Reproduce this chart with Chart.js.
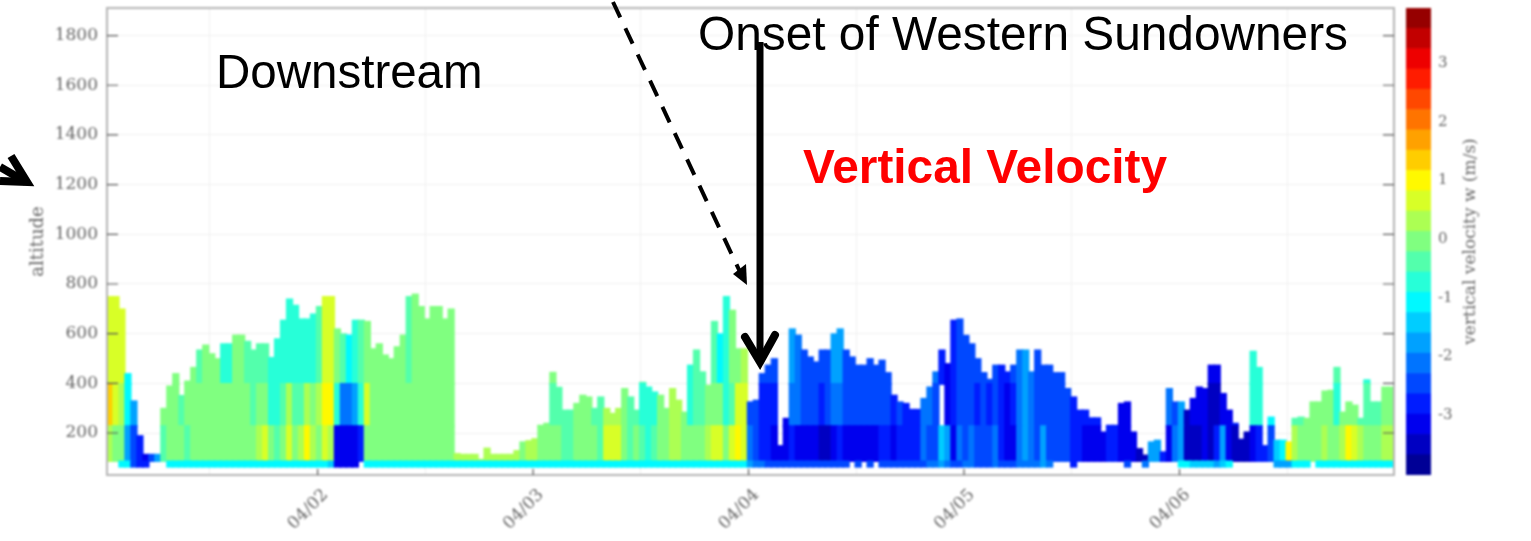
<!DOCTYPE html>
<html>
<head>
<meta charset="utf-8">
<title>Vertical velocity</title>
<script src="https://cdn.jsdelivr.net/npm/chart.js@4"></script>
<style>
    html, body { margin: 0; padding: 0; background: #fff; overflow: hidden; }
    #page { position: relative; width: 1531px; height: 541px; }
    canvas { position: absolute; left: 0; top: 0; filter: blur(1px); }
    svg { position: absolute; left: 0; top: 0; }
    .note { position: absolute; font-family: "Liberation Sans", Arial, sans-serif; font-size: 47.8px; line-height: 1; white-space: nowrap; color: #000; }
    .red { color: #f00; font-weight: bold; }
</style>
</head>
<body>
<div id="page">
    <canvas id="curtainChart" width="1531" height="541"></canvas>
    <canvas id="colorbarChart" width="1531" height="541"></canvas>
    <svg width="1531" height="541">
        <!-- dashed arrow -->
        <line x1="613" y1="2" x2="741" y2="274" stroke="#000" stroke-width="4" stroke-dasharray="17 12"/>
        <polygon points="747,285 733,274 746,264" fill="#000"/>
        <!-- onset arrow -->
        <line x1="760" y1="42" x2="760" y2="360" stroke="#000" stroke-width="7"/>
        <polyline points="745,337 760,362 775,335" fill="none" stroke="#000" stroke-width="8" stroke-linecap="round"/>
        <!-- arrow on the left edge -->
        <polyline points="11,156 27,182 0,181" fill="none" stroke="#000" stroke-width="8"/>
        <line x1="0" y1="167" x2="26" y2="182" stroke="#000" stroke-width="8"/>
    </svg>
    <div class="note" style="left:216px; top:48px; font-size:47.5px;">Downstream</div>
    <div class="note" style="left:698px; top:10px;">Onset of Western Sundowners</div>
    <div class="note red" style="left:803px; top:143px;">Vertical Velocity</div>
</div>
<script>
// Chart values
const dayTicks = [2, 3, 4, 5, 6];
const altitudeTicks = [200, 400, 600, 800, 1000, 1200, 1400, 1600, 1800];
const velocityTicks = [-3, -2, -1, 0, 1, 2, 3];
const startDay = 1.0225;
const columnsPerDay = 36;

// Top of the measured profile in each column (m)
const topAltitude = [
    750, 750, 700, 440, 330, 190, 115, 115, 115, 300,
    390, 440, 352, 410, 465, 535, 555, 520, 500, 560,
    560, 595, 595, 570, 535, 560, 560, 505, 580, 655,
    740, 715, 660, 660, 680, 710, 750, 750, 620, 600,
    595, 655, 655, 650, 540, 560, 515, 500, 548, 595,
    750, 760, 710, 660, 710, 710, 660, 700, 118, 115,
    115, 115, 95, 140, 115, 115, 115, 115, 130, 165,
    170, 178, 232, 240, 445, 385, 293, 293, 320, 353,
    346, 300, 346, 300, 280, 300, 380, 346, 293, 405,
    386, 366, 353, 300, 380, 333, 285, 474, 535, 447,
    393, 650, 600, 750, 695, 540, 540, 326, 333, 440,
    474, 500, 150, 260, 620, 595, 535, 507, 487, 535,
    535, 600, 620, 535, 507, 474, 474, 500, 474, 494,
    444, 353, 326, 320, 296, 296, 340, 386, 447, 535,
    480, 655, 660, 594, 560, 500, 444, 417, 474, 474,
    447, 474, 535, 535, 447, 535, 474, 474, 444, 444,
    380, 346, 293, 293, 262, 262, 205, 232, 232, 320,
    326, 205, 138, 112, 165, 172, 125, 380, 326, 326,
    293, 340, 386, 380, 474, 474, 360, 293, 240, 176,
    205, 530, 465, 150, 265, 172, 172, 165, 260, 265,
    260, 326, 326, 370, 373, 465, 285, 326, 313, 260,
    415, 326, 326, 386, 386
];

// Vertical velocity (m/s) in the thin band nearest the ground, null where empty
const groundVelocity = [
    null, null, -1, -1.2, -2.5, -2.8, -2.8, null, null, null,
    -1.2, -1.2, -1.2, -1.2, -1.2, -1.2, -1.2, -1.2, -1.2, -1.2,
    -1.2, -1.2, -1.2, -1.2, -1.2, -1.2, -1.2, -1.2, -1.2, -1.2,
    -1.2, -1.2, -1.2, -1.2, -1.2, -1.2, -1.2, -1.3, -3, -3,
    -3, -3, null, -1.2, -1.2, -1.2, -1.2, -1.2, -1.2, -1.2,
    -1.2, -1.2, -1.2, -1.2, -1.2, -1.2, -1.2, -1.2, -1.2, -1.2,
    -1.2, -1.2, -1.2, -1.2, -1.2, -1.2, -1.2, -1.2, -1.2, -1.2,
    -1.2, -1.2, -1.2, -1.2, -1.2, -1.2, -1.2, -1.2, -1.2, -1.2,
    -1.2, -1.2, -1.2, -1.2, -1.2, -1.2, -1.2, -1.2, -1.2, -1.2,
    -1.2, -1.2, -1.2, -1.2, -1.2, -1.2, -1.2, -1.2, -1.2, -1.2,
    -1.2, -1.2, -1.2, -1.2, -1.2, -1.2, -1.2, -1.8, -2, -2.2,
    -2.4, -2.5, -2.6, -2.6, -2.6, -2.6, -2.6, -2.6, -2.6, -2.6,
    -2.6, -2.6, -2.6, -2.6, null, -2.6, null, -2.6, null, -2.5,
    -2.5, -2.4, -2.4, -2.4, -2.4, -2.4, -2.4, -2.2, -2.2, -1.6,
    -2.2, -2.4, -2.4, -2.2, -2.2, -2.4, -2.4, -2.4, -2.2, -2.4,
    -2.6, -2.6, -2.2, -2, -2, -2.2, -1.8, -2.2, null, null,
    null, -2.8, null, null, null, null, null, null, null, null,
    -2.6, null, null, -2.2, null, null, null, null, null, -1.2,
    -1.2, -1.4, -1.4, -1.4, -1.4, -1.6, -1.4, -1.2, null, null,
    null, null, null, null, null, -1.6, -1.6, -1.6, -1.2, -1.2,
    -1.2, null, -1.2, -1.2, -1.2, -1.2, -1.2, -1.2, -1.2, -1.2,
    -1.2, -1.2, -1.2, -1.2, -1.2
];

// Vertical velocity (m/s) below 230 m
const lowVelocity = [
    0.3, -0.1, -0.2, -1.6, -2.4, -2.8, -3.1, -2.5, -1.8, -0.3,
    -0.1, 0, -0.2, -0.3, -0.1, 0, 0, 0.1, 0, -0.1,
    -0.1, 0, 0, 0, -0.2, 0.3, 0.7, -0.2, -0.3, 0.1,
    0.8, 0, 0.2, 1, 0.2, 0.1, 0.5, 0.3, -3, -3.3,
    -3.3, -3.2, -2.8, 0, -0.1, -0.1, 0, 0, 0, -0.1,
    -0.1, 0, 0, 0, 0, 0.1, 0, 0, 0.2, 0.2,
    0.2, 0.2, 0.2, 0.2, 0.2, 0.2, 0.2, 0.2, 0.2, 0.1,
    0.2, 0.2, 0, 0, -0.1, -0.2, -0.4, -0.3, 0, 0.1,
    0, -0.2, -0.3, 0.5, 0.6, 0.5, 0.1, -0.3, -0.2, -0.5,
    -0.6, -0.4, -0.1, 0.1, 0.4, 0.3, 0, -0.2, 0, 0.1,
    0.3, 0.8, 0.5, -0.1, 0.7, 0.9, 0.7, -2.2, -2.6, -2.8,
    -2.8, -3, -3.1, -3.3, -2.9, -3, -3.1, -3.3, -3.3, -3.4,
    -3.4, -3, -2.9, -3.1, -3.2, -3.1, -3, -3, -3, -2.9,
    -2.9, -3, -2.9, -2.8, -2.8, -2.7, -2.2, -2.3, -2.6, -1.3,
    -1.8, -3, -2.2, -2.4, -2.1, -2.6, -2.3, -2.5, -2.1, -2.9,
    -3.3, -3.2, -2.1, -1.9, -2, -2.4, -1.8, -2.4, -2.6, -2.5,
    -2.6, -2.7, -2.9, -3, -3, -3.1, -3.2, -2.8, -2.8, -3.1,
    -3.2, -3.3, -3.4, -3.4, -1.9, -1.8, -2.8, -3, -2.2, -1.8,
    -3.5, -3.5, -3.4, -3.3, -3.5, -2.8, -1.8, -3.3, -3.4, -3.4,
    -3.4, -3, -2.9, -2.7, -2.4, -1.4, -1, 0.9, 0.2, 0,
    0, -0.1, 0, 0.2, 0.1, 0, 0.3, 0.9, 0.6, 0.2,
    0, 0.1, 0.1, 0.2, 0.2
];

// Vertical velocity (m/s) between 230 m and 400 m, null where there is no return
const midVelocity = [
    1.3, 0.8, 0.3, -1.1, -1.8, null, null, null, null, -0.2,
    -0.2, -0.1, -0.3, -0.2, 0, 0, 0, 0, 0, -0.1,
    -0.1, 0, -0.1, -0.1, -0.4, -0.2, 0, -0.8, -0.8, -0.4,
    0.2, -0.4, -0.5, 0.3, -0.2, 0.2, 0.9, 1.1, -0.6, -2,
    -2.1, -1.9, -0.9, 0.6, 0, -0.1, 0, -0.1, 0, 0,
    -0.1, 0, -0.1, 0, 0.1, 0, 0, 0, null, null,
    null, null, null, null, null, null, null, null, null, null,
    null, null, 0, -0.2, -0.5, -0.3, -0.4, -0.4, -0.1, 0,
    -0.2, -0.4, -0.5, 0.3, 0.4, 0.3, 0, -0.3, -0.4, -0.6,
    -0.7, -0.6, -0.2, 0, 0.4, 0.3, 0, -0.6, -0.5, -0.3,
    -0.1, 0, -0.2, -0.7, -0.4, 0.7, 0.8, -2.4, -2.6, -2.7,
    -2.7, -2.8, null, -3.2, -2.1, -2.2, -2.5, -2.6, -2.6, -2.7,
    -2.5, -2.1, -2, -2.5, -2.6, -2.5, -2.4, -2.4, -2.5, -2.5,
    -2.6, -2.7, -2.6, -2.8, -2.7, -2.7, -2.1, -2.1, -2.5, null,
    -3, -2.9, -2.5, -2.6, -2.5, -2.8, -2.6, -2.7, -2.5, -2.8,
    -3, -2.8, -2.1, -1.9, -2, -2.4, -2.3, -2.4, -2.6, -2.5,
    -2.6, -2.7, -2.7, -2.8, -2.8, -2.8, null, -2.8, -2.8, -3.1,
    -3.2, null, null, null, null, null, null, -2.1, -2.6, -1.8,
    -3.4, -3.2, -3.3, -3.3, -3.4, -3.4, -3.2, -3, -2.9, null,
    null, -0.8, -0.7, null, -1.2, null, null, null, -0.3, -0.3,
    -0.2, -0.2, -0.1, -0.2, -0.1, -0.6, -0.2, -0.2, -0.1, -0.3,
    -0.5, -0.5, -0.5, -0.1, 0.1
];

// Vertical velocity (m/s) above 400 m
const highVelocity = [
    0.8, 0.7, 0.6, -1, null, null, null, null, null, null,
    null, -0.2, null, -0.1, -0.2, -0.3, -0.1, -0.1, 0, -0.6,
    -0.6, -0.2, -0.2, -0.3, -0.5, -0.4, -0.4, -0.7, -0.8, -0.6,
    -0.7, -0.7, -0.8, -0.7, -0.8, -0.3, 0.8, 0.5, -0.2, -0.3,
    -1, -0.8, -0.4, -0.1, 0, 0, -0.1, -0.1, 0, 0,
    -0.5, -0.2, -0.2, 0, -0.1, -0.1, 0, -0.1, null, null,
    null, null, null, null, null, null, null, null, null, null,
    null, null, null, null, -0.2, null, null, null, null, null,
    null, null, null, null, null, null, null, null, null, -0.5,
    null, null, null, null, null, null, null, -0.8, -0.5, -0.5,
    null, -0.5, -1, -0.6, -0.2, 0.1, 0.2, null, null, -2.6,
    -2.5, -2.4, null, null, -1.9, -2, -2.3, -2.5, -2.5, -2.5,
    -2.3, -1.8, -1.8, -2.4, -2.5, -2.4, -2.3, -2.3, -2.4, -2.4,
    -2.5, null, null, null, null, null, null, null, -2.2, -2.8,
    -3, -2.8, -2.5, -2.5, -2.4, -2.6, -2.4, -2.6, -2.5, -2.7,
    -2.9, -2.6, -2, -1.9, -2, -2.4, -2.5, -2.5, -2.6, -2.5,
    null, null, null, null, null, null, null, null, null, null,
    null, null, null, null, null, null, null, null, null, null,
    null, null, null, null, -3.3, -3.2, null, null, null, null,
    null, -0.7, -0.7, null, null, null, null, null, null, null,
    null, null, null, null, null, -0.3, null, null, null, null,
    -0.6, null, null, null, null
];

// Edges of the colour levels on the colour bar (m/s)
const levelEdges = [
    -4.02, -3.674, -3.328, -2.982, -2.636, -2.29, -1.944, -1.598, -1.252, -0.906, -0.56, -0.214,
    0.132, 0.478, 0.824, 1.17, 1.516, 1.862, 2.208, 2.554, 2.9, 3.246, 3.592, 3.938
];

// Jet colour of one colour level
function jetColor(t) {
    const part = function (c) {
        return Math.round(255 * Math.max(0, Math.min(1, 1.5 - Math.abs(4 * t - c))));
    };
    return 'rgb(' + part(3) + ',' + part(2) + ',' + part(1) + ')';
}

const levelCount = levelEdges.length - 1;

function levelIndex(v) {
    let i = 0;
    while (i < levelCount - 1 && v >= levelEdges[i + 1]) i++;
    return i;
}

function levelColor(i) {
    return jetColor((i + 0.5) / levelCount);
}

const times = topAltitude.map(function (_, i) {
    return startDay + (i + 0.5) / columnsPerDay;
});

// One dataset per altitude band. Bands overlap by a few metres so no seam shows.
function bandDataset(velocity, low, high) {
    return {
        data: velocity.map(function (v, i) {
            if (v === null || topAltitude[i] <= low) return null;
            return [low, Math.min(topAltitude[i], high)];
        }),
        backgroundColor: velocity.map(function (v) {
            return v === null ? 'rgba(0,0,0,0)' : levelColor(levelIndex(v));
        }),
        borderWidth: 0,
        grouped: false,
        barThickness: 6.6
    };
}

// Chart.js keeps half a label free at the ends of an axis, the plot here runs to the edge
function noEndPadding(scale) {
    scale.paddingTop = 0;
    scale.paddingBottom = 0;
    scale.paddingLeft = 0;
    scale.paddingRight = 0;
}

// Tick marks inside the frame, and the frame itself
const frameTicks = {
    id: 'frameTicks',
    afterDatasetsDraw(chart) {
        const { ctx, chartArea: a, scales } = chart;
        ctx.save();
        ctx.strokeStyle = '#b4b4b4';
        ctx.lineWidth = 2;
        ctx.strokeRect(a.left, a.top, a.right - a.left, a.bottom - a.top);
        ctx.strokeStyle = '#555';
        ctx.lineWidth = 1.2;
        ctx.beginPath();
        altitudeTicks.forEach(function (v) {
            const y = scales.y.getPixelForValue(v);
            ctx.moveTo(a.left, y);
            ctx.lineTo(a.left + 11, y);
            ctx.moveTo(a.right - 11, y);
            ctx.lineTo(a.right, y);
        });
        dayTicks.forEach(function (v) {
            const x = scales.x.getPixelForValue(v);
            ctx.moveTo(x, a.bottom);
            ctx.lineTo(x, a.bottom - 6);
        });
        ctx.stroke();
        ctx.restore();
    }
};

// Colour bar title reads upwards, Chart.js would turn it the other way on a right axis
const colorbarTitle = {
    id: 'colorbarTitle',
    afterDraw(chart) {
        const { ctx, chartArea: a } = chart;
        ctx.save();
        ctx.translate(a.right + 40, (a.top + a.bottom) / 2);
        ctx.rotate(-Math.PI / 2);
        ctx.font = '17px "DejaVu Serif"';
        ctx.fillStyle = '#666';
        ctx.textAlign = 'center';
        ctx.textBaseline = 'middle';
        ctx.fillText('vertical velocity w (m/s)', 0, 0);
        ctx.restore();
    }
};

// Altitude against time
new Chart(document.getElementById('curtainChart').getContext('2d'), {
    type: 'bar',
    data: {
        labels: times,
        datasets: [
            bandDataset(groundVelocity, 62, 88),
            bandDataset(lowVelocity, 85, 230),
            bandDataset(midVelocity, 225, 400),
            bandDataset(highVelocity, 395, 2000)
        ]
    },
    plugins: [frameTicks],
    options: {
        responsive: false,
        animation: false,
        layout: { padding: { top: 8, right: 137 } },
        plugins: { legend: { display: false }, tooltip: { enabled: false } },
        scales: {
            x: {
                type: 'linear',
                min: startDay,
                max: startDay + 5.973,
                offset: false,
                afterFit(scale) {
                    scale.height = 66;
                    noEndPadding(scale);
                },
                afterBuildTicks(scale) {
                    scale.ticks = dayTicks.map(function (v) { return { value: v }; });
                },
                grid: { color: '#f0f0f0', drawTicks: false },
                border: { display: false },
                ticks: {
                    autoSkip: false,
                    minRotation: 45,
                    maxRotation: 45,
                    padding: 10,
                    labelOffset: 8,
                    color: '#666',
                    font: { family: '"DejaVu Serif"', size: 17 },
                    callback(v) { return '04/0' + v; }
                }
            },
            y: {
                min: 31,
                max: 1911,
                afterFit(scale) {
                    scale.width = 107;
                    noEndPadding(scale);
                },
                afterBuildTicks(scale) {
                    scale.ticks = altitudeTicks.map(function (v) { return { value: v }; });
                },
                grid: { color: '#f0f0f0', drawTicks: false },
                border: { display: false },
                title: {
                    display: true,
                    text: 'altitude',
                    color: '#666',
                    font: { family: '"DejaVu Serif"', size: 18 },
                    padding: { top: 28, bottom: 0 }
                },
                ticks: {
                    padding: 9,
                    color: '#666',
                    font: { family: '"DejaVu Serif"', size: 17 },
                    callback(v) { return String(v); }
                }
            }
        }
    }
});

// Colour bar
new Chart(document.getElementById('colorbarChart').getContext('2d'), {
    type: 'bar',
    data: {
        labels: ['w'],
        datasets: levelEdges.slice(0, levelCount).map(function (edge, i) {
            return {
                data: [[edge, levelEdges[i + 1]]],
                backgroundColor: levelColor(i),
                borderWidth: 0,
                grouped: false,
                barPercentage: 1,
                categoryPercentage: 1
            };
        })
    },
    plugins: [colorbarTitle],
    options: {
        responsive: false,
        animation: false,
        layout: { padding: { top: 8, left: 1406, bottom: 66 } },
        plugins: { legend: { display: false }, tooltip: { enabled: false } },
        scales: {
            x: { display: false },
            y: {
                position: 'right',
                min: levelEdges[0],
                max: levelEdges[levelCount],
                afterFit(scale) {
                    scale.width = 100;
                    noEndPadding(scale);
                },
                afterBuildTicks(scale) {
                    scale.ticks = velocityTicks.map(function (v) { return { value: v }; });
                },
                grid: { display: false, drawTicks: false },
                border: { display: false },
                ticks: {
                    padding: 7,
                    color: '#666',
                    font: { family: '"DejaVu Serif"', size: 15 },
                    callback(v) { return String(v); }
                }
            }
        }
    }
});
</script>
</body>
</html>
